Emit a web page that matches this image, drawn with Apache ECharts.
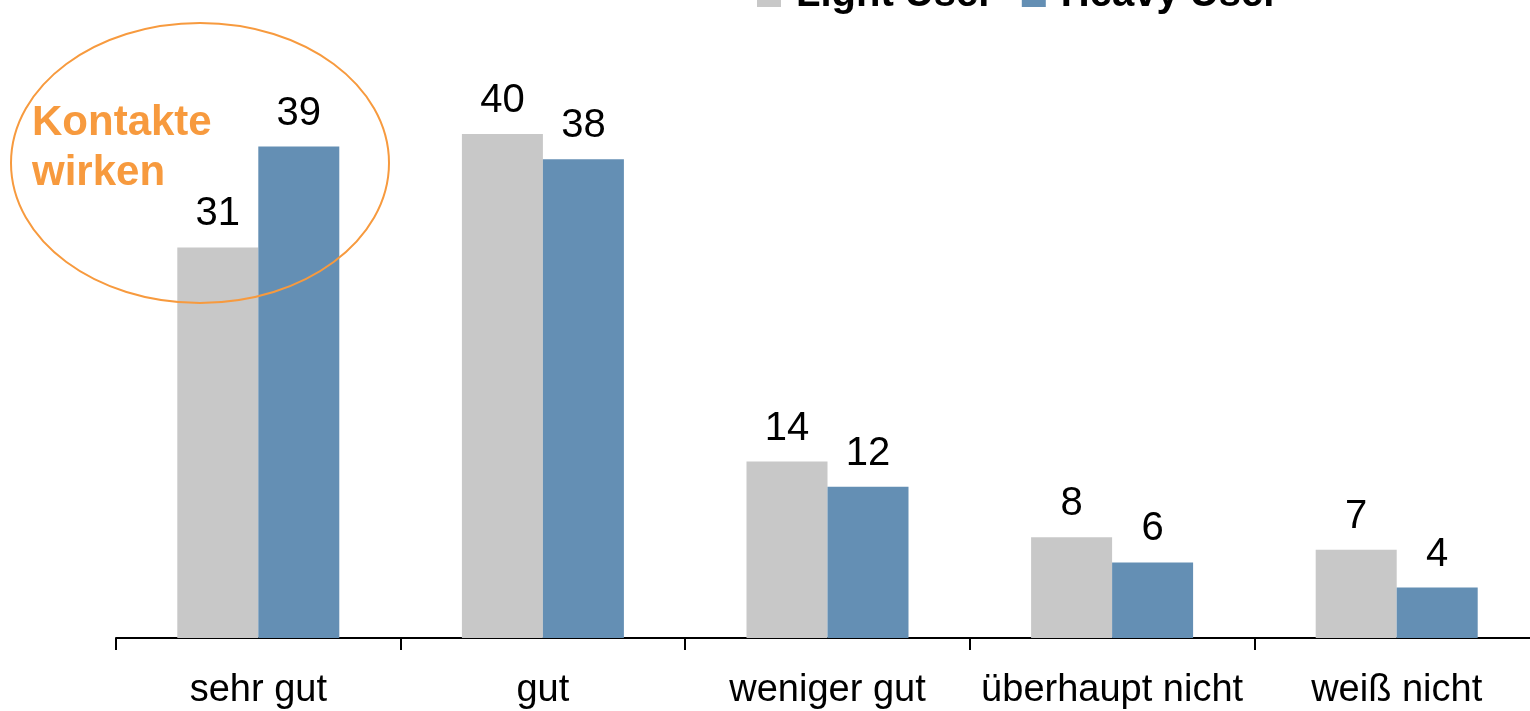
<!DOCTYPE html>
<html>
<head>
<meta charset="utf-8">
<script src="https://cdn.jsdelivr.net/npm/echarts@6/dist/echarts.min.js"></script>
<style>
  html, body { margin: 0; padding: 0; background: #fff; }
  #chart { width: 1530px; height: 711px; }
</style>
</head>
<body>
<div id="chart"></div>
<script>
const categories = ['sehr gut', 'gut', 'weniger gut', 'überhaupt nicht', 'weiß nicht'];
const seriesNames = ['Light User', 'Heavy User'];
const lightUser = [31, 40, 14, 8, 7];
const heavyUser = [39, 38, 12, 6, 4];
const colors = ['#c8c8c8', '#648fb4'];
const font = '"Liberation Sans", Arial, sans-serif';

const chart = echarts.init(document.getElementById('chart'));

const valueLabel = {
  show: true,
  position: 'top',
  distance: 13,
  color: '#000',
  fontSize: 40,
  fontFamily: font,
};

chart.setOption({
  animation: false,
  color: colors,
  legend: {
    left: 752,
    top: -30,
    itemWidth: 24,
    itemHeight: 24,
    itemGap: 28,
    icon: 'rect',
    textStyle: { fontSize: 40, fontWeight: 'bold', color: '#000', fontFamily: font, padding: [0, 0, 0, 10] },
    data: seriesNames,
  },
  grid: { left: 116, width: 1423, top: 8, bottom: 73, outerBoundsMode: 'none' },
  xAxis: {
    type: 'category',
    data: categories,
    axisLine: { lineStyle: { color: '#000', width: 2 } },
    axisTick: { show: true, interval: 0, length: 12, lineStyle: { color: '#000', width: 2 } },
    axisLabel: { interval: 0, color: '#000', fontSize: 38, fontFamily: font, margin: 34 },
  },
  yAxis: { type: 'value', min: 0, max: 50, show: false },
  series: [
    { name: seriesNames[0], type: 'bar', data: lightUser, barWidth: 81, barGap: '0%', label: valueLabel },
    { name: seriesNames[1], type: 'bar', data: heavyUser, barWidth: 81, label: valueLabel },
  ],
  graphic: [
    {
      type: 'ellipse',
      shape: { cx: 200, cy: 163, rx: 189, ry: 140 },
      style: { fill: 'none', stroke: '#f79a3e', lineWidth: 2 },
      z: 100,
    },
    {
      type: 'text',
      left: 32,
      top: 98,
      style: {
        text: 'Kontakte\nwirken',
        fill: '#f79a3e',
        font: 'bold 42px ' + font,
        lineHeight: 50,
      },
      z: 100,
    },
  ],
});
</script>
</body>
</html>
